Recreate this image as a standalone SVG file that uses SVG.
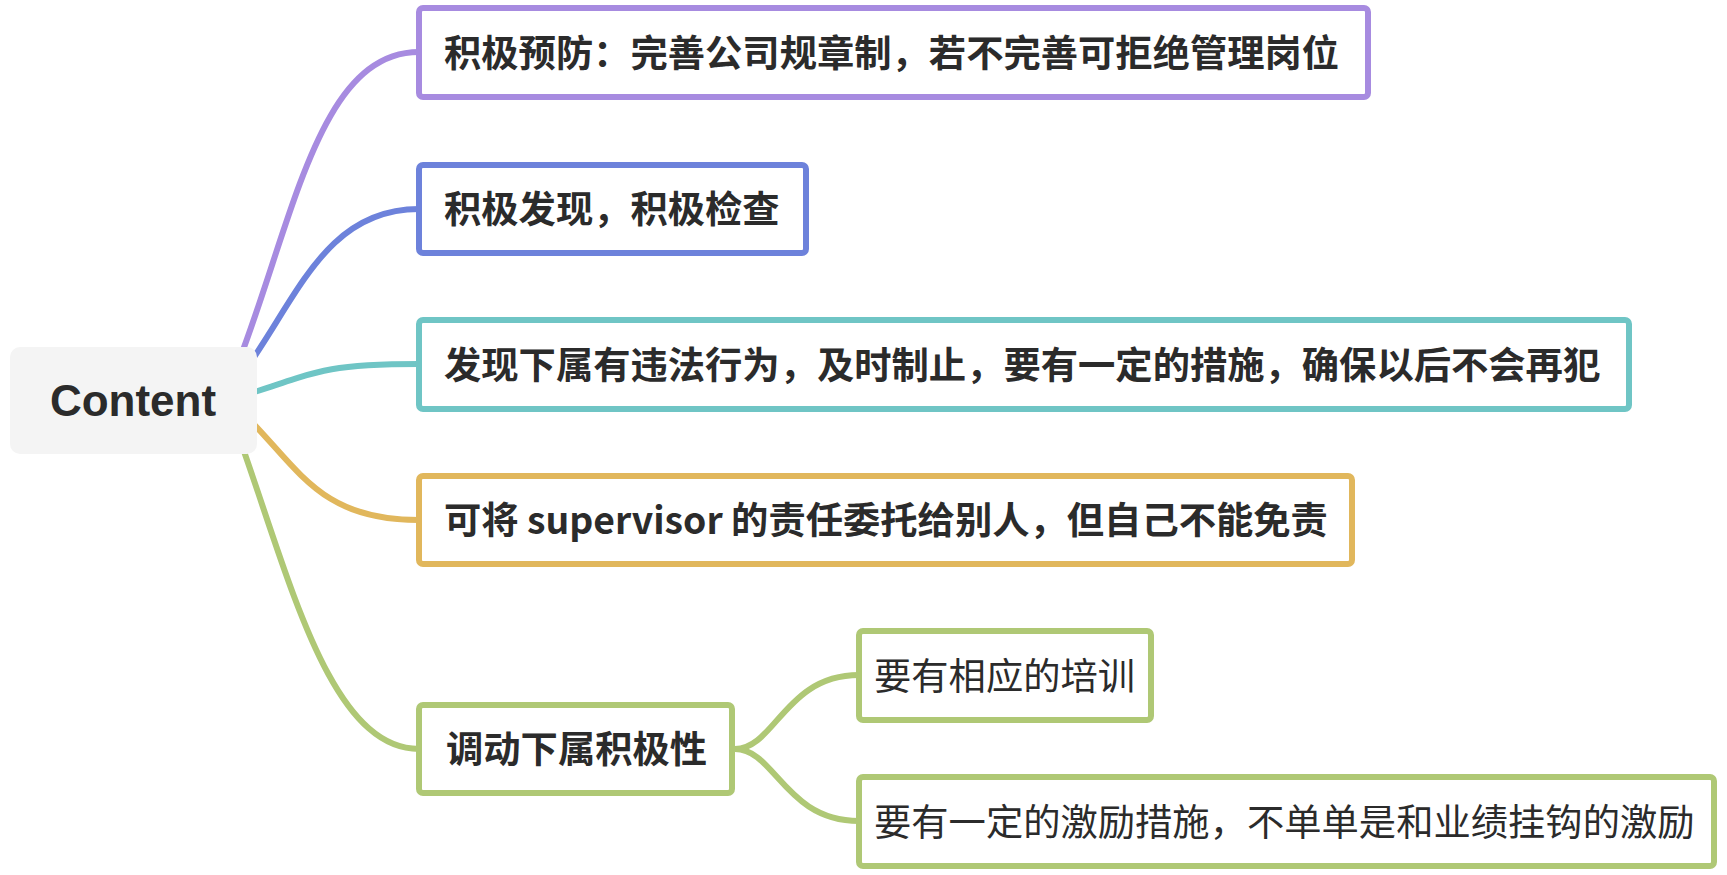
<svg xmlns="http://www.w3.org/2000/svg" width="1727" height="875" viewBox="0 0 1727 875">
<style>
.bg{fill:#ffffff}
.box{fill:#ffffff;stroke-width:6}
.t{font-family:"Noto Sans CJK SC","Liberation Sans",sans-serif;font-size:37.3px;fill:#2b2b2b}
.b{font-weight:bold}
.c{fill:none;stroke-width:6;stroke-linecap:round}
.purple{stroke:#a78be0}
.blue{stroke:#6d82db}
.teal{stroke:#6fc5c5}
.yellow{stroke:#e1b75c}
.green{stroke:#afc875}
</style>
<rect class="bg" x="0" y="0" width="1727" height="875"/>
<g id="connectors">
<path class="c purple" d="M243 350 C295 210 322 52 419 52"/>
<path class="c blue" d="M252 360 C300 290 330 209 419 209"/>
<path class="c teal" d="M240 397 C320 370 330 364 419 364"/>
<path class="c yellow" d="M245 415 C300 470 320 520 419 520"/>
<path class="c green" d="M240 440 C290 580 330 749 419 749"/>
<path class="c green" d="M735 749 C775 749 785 675 859 675"/>
<path class="c green" d="M735 749 C775 749 785 821 859 821"/>
</g>
<g id="root">
<rect x="10" y="347" width="247" height="107" rx="10" fill="#f4f4f4"/>
<text x="133" y="416" text-anchor="middle" font-family="Liberation Sans, Arial, sans-serif" font-size="44" font-weight="bold" fill="#2b2b2b">Content</text>
</g>
<g id="n1">
<rect class="box purple" x="419" y="8" width="949" height="89" rx="4"/>
<text class="t b" x="444" y="66.5">积极预防：完善公司规章制，若不完善可拒绝管理岗位</text>
</g>
<g id="n2">
<rect class="box blue" x="419" y="165" width="387" height="88" rx="4"/>
<text class="t b" x="444" y="223">积极发现，积极检查</text>
</g>
<g id="n3">
<rect class="box teal" x="419" y="320" width="1210" height="89" rx="4"/>
<text class="t b" x="444" y="378.5">发现下属有违法行为，及时制止，要有一定的措施，确保以后不会再犯</text>
</g>
<g id="n4">
<rect class="box yellow" x="419" y="476" width="933" height="88" rx="4"/>
<text class="t b" x="444" y="534">可将 supervisor 的责任委托给别人，但自己不能免责</text>
</g>
<g id="n5">
<rect class="box green" x="419" y="705" width="313" height="88" rx="4"/>
<text class="t b" x="446" y="763">调动下属积极性</text>
</g>
<g id="n6">
<rect class="box green" x="859" y="631" width="292" height="89" rx="4"/>
<text class="t" x="874" y="689.5">要有相应的培训</text>
</g>
<g id="n7">
<rect class="box green" x="859" y="777" width="855" height="89" rx="4"/>
<text class="t" x="874" y="835.5">要有一定的激励措施，不单单是和业绩挂钩的激励</text>
</g>
</svg>
